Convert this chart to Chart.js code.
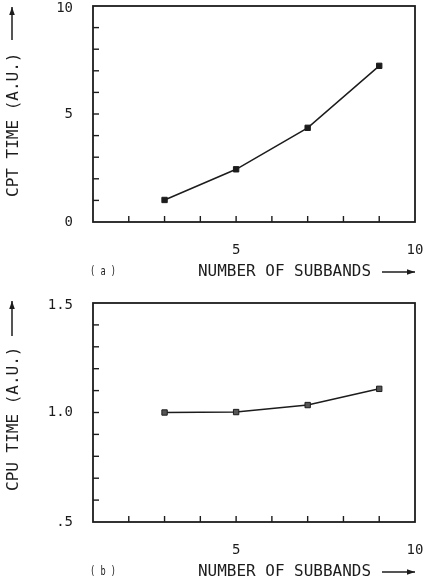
<!DOCTYPE html>
<html><head><meta charset="utf-8">
<script src="https://cdn.jsdelivr.net/npm/chart.js@4"></script>
<style>
html,body{margin:0;padding:0;background:#fff;}
#wrap{position:relative;width:425px;height:582px;background:#fff;}
.panel{position:absolute;left:0;width:425px;height:291px;}
</style></head><body>
<div id="wrap">
<div class="panel" style="top:0"><canvas id="ca"></canvas></div>
<div class="panel" style="top:291px"><canvas id="cb"></canvas></div>
</div>
<script>
// ---- data ----
const subbands = [3, 5, 7, 9];
const cptTime = [1.02, 2.44, 4.36, 7.23];
const cpuTime = [1.0, 1.002, 1.034, 1.108];
const xTickValues = [5, 10];
const xTickLabels = ['5', '10'];
const cptTickValues = [0, 5, 10];
const cptTickLabels = ['0', '5', '10'];
const cpuTickValues = [0.5, 1.0, 1.5];
const cpuTickLabels = ['.5', '1.0', '1.5'];
const xTitle = 'NUMBER OF SUBBANDS';
const cptTitle = 'CPT TIME (A.U.)';
const cpuTitle = 'CPU TIME (A.U.)';

const INK = '#1c1c1c';
const FONT = '"DejaVu Sans Mono", monospace';

function arrow(ctx, x1, y1, x2, y2) {
  ctx.beginPath();
  ctx.moveTo(x1, y1); ctx.lineTo(x2, y2);
  ctx.lineWidth = 1.5; ctx.strokeStyle = INK; ctx.stroke();
  const a = Math.atan2(y2 - y1, x2 - x1), L = 8, W = 2.8;
  ctx.beginPath();
  ctx.moveTo(x2, y2);
  ctx.lineTo(x2 - L * Math.cos(a) + W * Math.sin(a), y2 - L * Math.sin(a) - W * Math.cos(a));
  ctx.lineTo(x2 - L * Math.cos(a) - W * Math.sin(a), y2 - L * Math.sin(a) + W * Math.cos(a));
  ctx.closePath(); ctx.fillStyle = INK; ctx.fill();
}

const plotter = {
  id: 'plotter',
  afterDraw(chart, args, o) {
    const ctx = chart.ctx, ca = chart.chartArea;
    const xs = chart.scales.x, ys = chart.scales.y;
    ctx.save();
    // frame
    ctx.strokeStyle = INK; ctx.lineWidth = 1.8;
    ctx.strokeRect(ca.left, ca.top, ca.right - ca.left, ca.bottom - ca.top);
    // inward ticks
    ctx.lineWidth = 1.4;
    const nx = Math.round((xs.max - xs.min) / o.xStep);
    for (let k = 1; k < nx; k++) {
      const px = xs.getPixelForValue(xs.min + k * o.xStep);
      ctx.beginPath(); ctx.moveTo(px, ca.bottom); ctx.lineTo(px, ca.bottom - 6); ctx.stroke();
    }
    const ny = Math.round((ys.max - ys.min) / o.yStep);
    for (let k = 1; k < ny; k++) {
      const py = ys.getPixelForValue(ys.min + k * o.yStep);
      ctx.beginPath(); ctx.moveTo(ca.left, py); ctx.lineTo(ca.left + 6, py); ctx.stroke();
    }
    ctx.fillStyle = INK;
    // y tick labels
    ctx.font = '14px ' + FONT;
    ctx.textAlign = 'right'; ctx.textBaseline = 'middle';
    o.yTickValues.forEach((v, i) => {
      const py = Math.max(ys.getPixelForValue(v), ca.top + 2);
      ctx.fillText(o.yTickLabels[i], ca.left - 20, py);
    });
    // x tick labels
    ctx.textAlign = 'center';
    xTickValues.forEach((v, i) => {
      ctx.fillText(xTickLabels[i], xs.getPixelForValue(v), ca.bottom + 28);
    });
    // x title
    ctx.font = '16px ' + FONT;
    ctx.textAlign = 'left';
    const ty = ca.bottom + 50;
    ctx.fillText(xTitle, 198, ty, 173);
    arrow(ctx, 382, ty, ca.right, ty);
    // panel label
    ctx.font = '13px ' + FONT;
    ctx.fillText(o.panel, 90, ty, 26);
    // y title (rotated)
    ctx.font = '16px ' + FONT;
    ctx.save();
    ctx.translate(14, o.yTitleBottom);
    ctx.rotate(-Math.PI / 2);
    ctx.textAlign = 'left'; ctx.textBaseline = 'middle';
    ctx.fillText(o.yTitle, 0, 0, o.yTitleLen);
    ctx.restore();
    arrow(ctx, 12, o.arrowFrom, 12, o.arrowTo);
    ctx.restore();
  }
};

function makeChart(id, values, cfg) {
  return new Chart(document.getElementById(id), {
    type: 'line',
    data: {
      datasets: [{
        data: subbands.map((x, i) => ({ x: x, y: values[i] })),
        borderColor: INK, borderWidth: 1.5, tension: 0,
        pointStyle: 'rect', pointRadius: 3.8,
        pointBackgroundColor: cfg.markerFill, pointBorderColor: INK, pointBorderWidth: 1
      }]
    },
    options: {
      responsive: true, maintainAspectRatio: false, animation: false,
      devicePixelRatio: 1,
      layout: { padding: { left: 0, right: 10, top: cfg.padTop, bottom: 0 } },
      scales: {
        x: {
          type: 'linear', min: 1, max: 10,
          grid: { display: false }, border: { display: false },
          ticks: { display: false, stepSize: 1 },
          afterFit(s) { s.height = cfg.xHeight; }
        },
        y: {
          type: 'linear', min: cfg.yMin, max: cfg.yMax,
          grid: { display: false }, border: { display: false },
          ticks: { display: false, stepSize: cfg.yStep },
          afterFit(s) { s.width = 93; }
        }
      },
      plugins: {
        legend: { display: false }, tooltip: { enabled: false },
        plotter: {
          xStep: 1, yStep: cfg.yStep,
          yTickValues: cfg.yTickValues, yTickLabels: cfg.yTickLabels,
          yTitle: cfg.yTitle, yTitleBottom: cfg.yTitleBottom, yTitleLen: 145,
          arrowFrom: cfg.arrowFrom, arrowTo: cfg.arrowTo, panel: cfg.panel
        }
      }
    },
    plugins: [plotter]
  });
}

makeChart('ca', cptTime, {
  padTop: 6, xHeight: 69, yMin: 0, yMax: 10, yStep: 1,
  yTickValues: cptTickValues, yTickLabels: cptTickLabels,
  yTitle: cptTitle, yTitleBottom: 197, arrowFrom: 40, arrowTo: 7,
  panel: '( a )', markerFill: INK
});
makeChart('cb', cpuTime, {
  padTop: 12, xHeight: 60, yMin: 0.5, yMax: 1.5, yStep: 0.1,
  yTickValues: cpuTickValues, yTickLabels: cpuTickLabels,
  yTitle: cpuTitle, yTitleBottom: 200, arrowFrom: 45, arrowTo: 10,
  panel: '( b )', markerFill: '#555'
});
</script>
</body></html>
